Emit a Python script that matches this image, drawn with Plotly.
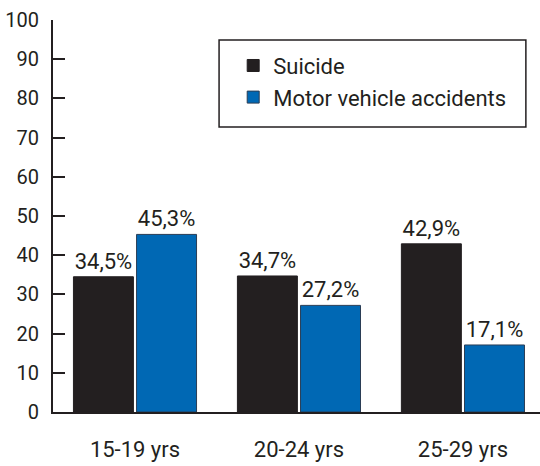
import plotly.graph_objects as go

categories = ["15-19 yrs", "20-24 yrs", "25-29 yrs"]
suicide = [34.5, 34.7, 42.9]
motor = [45.3, 27.2, 17.1]
y_ticks = [0, 10, 20, 30, 40, 50, 60, 70, 80, 90, 100]

def fmt(v):
    return f"{v:.1f}".replace(".", ",") + "%"

FONT = "Roboto, Open Sans, sans-serif"
DARK = "#231f20"
BLUE = "#0068b4"
FS = 22

fig = go.Figure()
fig.add_trace(go.Bar(
    x=categories, y=suicide, name="Suicide",
    marker=dict(color=DARK, line=dict(color=DARK, width=1)),
    text=[fmt(v) for v in suicide], textposition="outside",
    textfont=dict(size=FS, color=DARK, family=FONT), cliponaxis=False,
))
fig.add_trace(go.Bar(
    x=categories, y=motor, name="Motor vehicle accidents",
    marker=dict(color=BLUE, line=dict(color="#2a3d55", width=1)),
    text=[fmt(v) for v in motor], textposition="outside",
    textfont=dict(size=FS, color=DARK, family=FONT), cliponaxis=False,
))

# legend frame
fig.add_shape(type="rect", xref="paper", yref="paper",
              x0=0.341, x1=0.971, y0=0.727, y1=0.949,
              line=dict(color=DARK, width=1.5), fillcolor="white", layer="below")

fig.update_layout(
    width=540, height=466,
    margin=dict(l=53, r=0, t=20, b=54, autoexpand=False),
    paper_bgcolor="white", plot_bgcolor="white",
    barmode="group", bargap=0.23, bargroupgap=0.05,
    font=dict(family=FONT, size=FS, color=DARK),
    showlegend=True,
    legend=dict(
        x=0.37, y=0.937, xanchor="left", yanchor="top",
        borderwidth=0, bgcolor="rgba(0,0,0,0)",
        font=dict(size=FS, family=FONT, color=DARK),
    ),
    uniformtext=dict(mode=False),
)
fig.update_xaxes(
    range=[-0.5, 2.47], showline=True, linecolor=DARK, linewidth=2,
    ticks="", showgrid=False, tickfont=dict(size=FS, family=FONT, color=DARK),
    ticklabelstandoff=17, automargin=False,
)
fig.update_yaxes(
    range=[0, 100], tickvals=y_ticks, showline=True, linecolor=DARK, linewidth=2,
    ticks="inside", ticklen=12, tickwidth=2, tickcolor=DARK, showgrid=False,
    zeroline=False, tickfont=dict(size=20, family=FONT, color=DARK),
    ticklabelstandoff=8, automargin=False,
)

fig.write_html("out.html", config={"displayModeBar": False},
               post_script="document.body.style.margin='0';")
